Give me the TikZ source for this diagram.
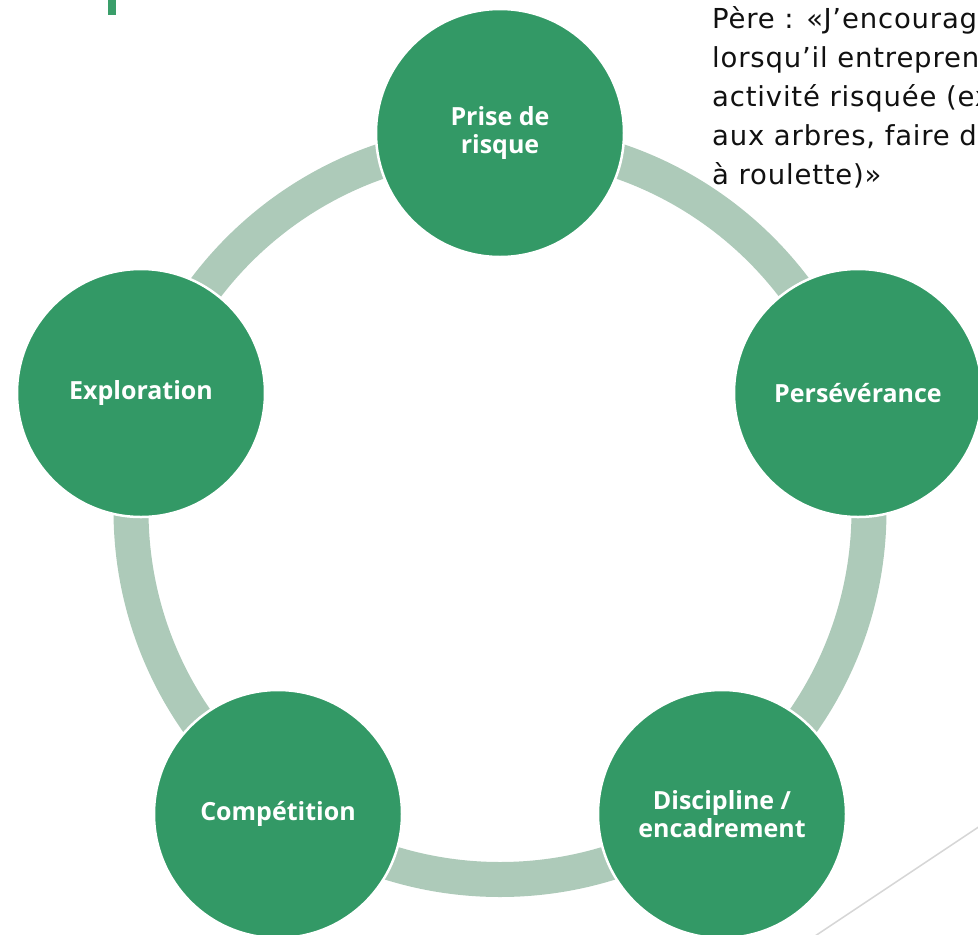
\documentclass[tikz,border=0pt]{standalone}
\usepackage{fontspec}
\setmainfont{Open Sans}
\newfontfamily\notefont{DejaVu Sans}[LetterSpace=3]
\definecolor{dkgreen}{HTML}{339966}
\definecolor{ringgreen}{HTML}{ADCAB9}
\definecolor{bargreen}{HTML}{3A9E6A}
\definecolor{linegrey}{HTML}{D6D6D6}
\definecolor{notetext}{HTML}{111111}
\begin{document}
\begin{tikzpicture}[x=1pt,y=-1pt,
  bubble/.style={circle,fill=dkgreen,draw=white,line width=2.5pt,minimum size=248pt,inner sep=0pt,
    text=white,font=\fontsize{25}{27.5}\selectfont\bfseries,align=center},
  ringstyle/.style={draw=ringgreen,line width=35pt}]
\useasboundingbox (0,0) rectangle (978,935);
\clip (0,0) rectangle (978,935);
% accent bar and thin line
\fill[bargreen] (108,0) rectangle (116,15);
\coordinate (la) at (815,936);
\coordinate (lb) at (980,826);
\draw[linegrey,line width=1.5pt] (la) -- (lb);
% note text
\node[anchor=north west,inner sep=0pt,align=left,text=notetext,
  font=\notefont\fontsize{27.5}{39}\selectfont] (note) at (712,6)
  {Père : «J’encourage\\lorsqu’il entreprend\\activité risquée (ex\\aux arbres, faire du\\à roulette)»};
% ring
\coordinate (c) at (500,510.5);
\draw[ringstyle] (c) circle[radius=369];
% bubbles
\node[bubble] (p1) at (500,133) {Prise de\\risque};
\node[bubble] (p2) at (858,393) {Persévérance};
\node[bubble] (p3) at (722,814) {Discipline /\\encadrement};
\node[bubble] (p4) at (278,814) {Compétition};
\node[bubble] (p5) at (141,393) {Exploration};
\end{tikzpicture}
\end{document}
